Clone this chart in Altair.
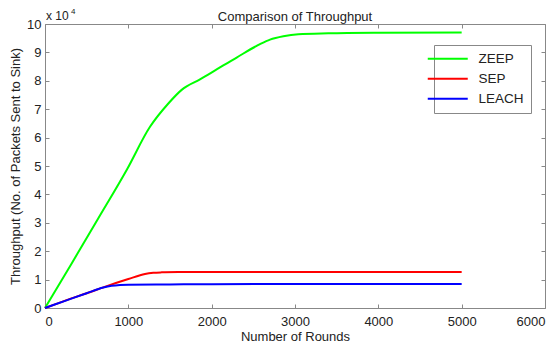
import altair as alt
import pandas as pd

# Data (throughput in packets)
rounds_zeep = [0, 320, 640, 980, 1260, 1480, 1640, 1860, 2060, 2300, 2580, 2700, 2860, 3040, 3400, 4000, 5000]
zeep = [0, 15700, 31600, 48600, 63800, 72000, 76800, 80500, 84000, 88200, 92900, 94500, 95700, 96400, 96700, 96900, 97000]

rounds_sep = [0, 250, 500, 750, 1000, 1200, 1300, 1400, 1600, 2000, 3000, 4000, 5000]
sep = [0, 2700, 5200, 7800, 10200, 12000, 12400, 12550, 12650, 12700, 12700, 12700, 12700]

rounds_leach = [0, 250, 500, 700, 800, 900, 1000, 1500, 2000, 3000, 4000, 5000]
leach = [0, 2600, 5200, 7200, 7800, 8100, 8200, 8300, 8400, 8450, 8450, 8450]

protocols = ["ZEEP", "SEP", "LEACH"]
colors = ["#00ff00", "#ff0000", "#0000ff"]

x_ticks = [0, 1000, 2000, 3000, 4000, 5000, 6000]
y_ticks = [0, 10000, 20000, 30000, 40000, 50000, 60000, 70000, 80000, 90000, 100000]

rows = []
for name, xs_, ys_ in [("ZEEP", rounds_zeep, zeep), ("SEP", rounds_sep, sep), ("LEACH", rounds_leach, leach)]:
    for a, b in zip(xs_, ys_):
        rows.append({"rounds": a, "throughput": b, "protocol": name})
df = pd.DataFrame(rows)

W, H = 500, 284
FONT = "Liberation Sans"
TXT = "#222222"

xs = alt.Scale(domain=[0, 6000], nice=False, zero=False)
ys = alt.Scale(domain=[0, 100000], nice=False, zero=False)

main = alt.Chart(df).mark_line(interpolate="monotone", strokeWidth=2).encode(
    x=alt.X("rounds:Q", scale=xs, axis=alt.Axis(
        orient="bottom", values=x_ticks, format="d", ticks=False, domain=False, grid=False,
        labelPadding=7, title="Number of Rounds", titlePadding=2)),
    y=alt.Y("throughput:Q", scale=ys, axis=alt.Axis(
        orient="left", values=y_ticks, labelExpr="datum.value / 10000", ticks=False, domain=False,
        grid=False, labelPadding=4, title="Throughput (No. of Packets Sent to Sink)", titlePadding=4)),
    color=alt.Color("protocol:N", scale=alt.Scale(domain=protocols, range=colors), legend=alt.Legend(
        title=None, orient="none", legendX=389, legendY=21, symbolType="M-4,0H4", symbolSize=100,
        symbolStrokeWidth=2, rowPadding=5, padding=7, strokeColor="#888888",
        fillColor="white", labelFont=FONT, labelFontSize=13.5, labelColor=TXT, labelOffset=24)),
)

ghost = alt.Chart(df).mark_point(opacity=0)

ticks_a = ghost.encode(
    x=alt.X("rounds:Q", scale=xs, axis=alt.Axis(orient="top", offset=-H, values=x_ticks, labels=False,
                                                 domain=False, grid=False, ticks=True, tickSize=4, title=None)),
    y=alt.Y("throughput:Q", scale=ys, axis=alt.Axis(orient="right", offset=-W, values=y_ticks, labels=False,
                                                     domain=False, grid=False, ticks=True, tickSize=4, title=None)),
)
ticks_b = ghost.encode(
    x=alt.X("rounds:Q", scale=xs, axis=alt.Axis(orient="bottom", offset=-H, values=x_ticks, labels=False,
                                                 domain=False, grid=False, ticks=True, tickSize=4, title=None)),
    y=alt.Y("throughput:Q", scale=ys, axis=alt.Axis(orient="left", offset=-W, values=y_ticks, labels=False,
                                                     domain=False, grid=False, ticks=True, tickSize=4, title=None)),
)

exp_base = alt.Chart(pd.DataFrame({"t": ["x 10"]})).mark_text(
    align="left", baseline="middle", font=FONT, fontSize=12, color=TXT
).encode(x=alt.value(1), y=alt.value(-8), text="t:N")
exp_sup = alt.Chart(pd.DataFrame({"t": ["4"]})).mark_text(
    align="left", baseline="middle", font=FONT, fontSize=8, color=TXT
).encode(x=alt.value(26), y=alt.value(-12), text="t:N")

chart = alt.layer(main, ticks_a, ticks_b, exp_base, exp_sup).resolve_axis(
    x="independent", y="independent"
).properties(
    width=W, height=H,
    title=alt.TitleParams("Comparison of Throughput", font=FONT, fontSize=13, fontWeight="normal",
                          color=TXT, anchor="middle", offset=-16, frame="group"),
    autosize=alt.AutoSizeParams(type="none"),
    padding={"left": 37, "top": 16, "right": 7, "bottom": 38},
).configure_view(
    stroke="#888888", strokeWidth=1
).configure_axis(
    labelFont=FONT, labelFontSize=13, labelColor=TXT, titleFont=FONT, titleFontSize=13,
    titleColor=TXT, titleFontWeight="normal", tickColor="#888888"
)

chart.save("out.html", embed_options={"renderer": "svg", "actions": False})
